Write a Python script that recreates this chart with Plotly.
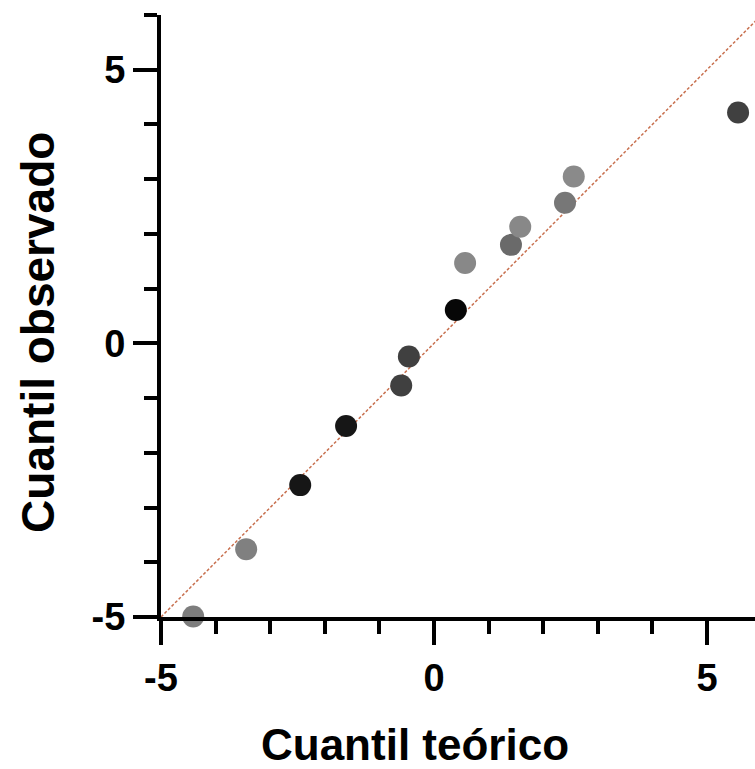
import plotly.graph_objects as go

# Data (theoretical vs observed quantiles)
teorico = [-4.41, -3.44, -2.45, -1.61, -0.60, -0.46, 0.40, 0.57, 1.41, 1.58, 2.40, 2.56, 5.57]
observado = [-4.99, -3.76, -2.59, -1.51, -0.77, -0.24, 0.61, 1.47, 1.80, 2.13, 2.57, 3.05, 4.22]
colores = ["#7d7d7d", "#808080", "#161616", "#161616", "#404040", "#404040", "#070707",
           "#888888", "#6a6a6a", "#888888", "#777777", "#8a8a8a", "#404040"]
linea_ref = [-5, 7]
tick_vals = [-5, 0, 5]
tick_text = ["-5", "0", "5"]

FONT = "Arial, Liberation Sans, Helvetica, sans-serif"

fig = go.Figure()
fig.add_trace(go.Scatter(
    x=linea_ref, y=linea_ref, mode="lines",
    line=dict(color="#c8704f", width=1.5, dash="3px,2px"),
    showlegend=False, hoverinfo="skip"))
fig.add_trace(go.Scatter(
    x=teorico, y=observado, mode="markers",
    marker=dict(size=22, color=colores, line=dict(width=0)),
    cliponaxis=False, showlegend=False))

axis_common = dict(
    showline=True, linecolor="black", linewidth=4,
    showgrid=False, zeroline=False,
    ticks="outside", ticklen=24, tickwidth=4, tickcolor="black",
    tickmode="array", tickvals=tick_vals, ticktext=tick_text,
    tickfont=dict(family=FONT, size=38, color="black", weight="bold"),
    minor=dict(ticks="outside", ticklen=13, tickwidth=4, tickcolor="black",
               tickmode="linear", tick0=-5, dtick=1, showgrid=False),
)

fig.update_xaxes(range=[-5, 5.88], **axis_common)
fig.update_yaxes(range=[-5, 6.0], **axis_common)

fig.update_layout(
    width=755, height=769,
    margin=dict(l=161, r=0, t=15, b=152),
    plot_bgcolor="white", paper_bgcolor="white",
    annotations=[
        dict(text="Cuantil teórico", xref="paper", yref="paper",
             x=0.428, y=-0.2126, xanchor="center", yanchor="middle",
             showarrow=False,
             font=dict(family=FONT, size=44, color="black", weight="bold")),
        dict(text="Cuantil observado", xref="paper", yref="paper",
             x=-0.207, y=0.472, xanchor="center", yanchor="middle",
             textangle=-90, showarrow=False,
             font=dict(family=FONT, size=46, color="black", weight="bold")),
    ],
)

fig.write_html(
    "out.html",
    config={"displayModeBar": False},
    post_script="document.body.style.margin='0';document.body.style.overflow='hidden';",
)
